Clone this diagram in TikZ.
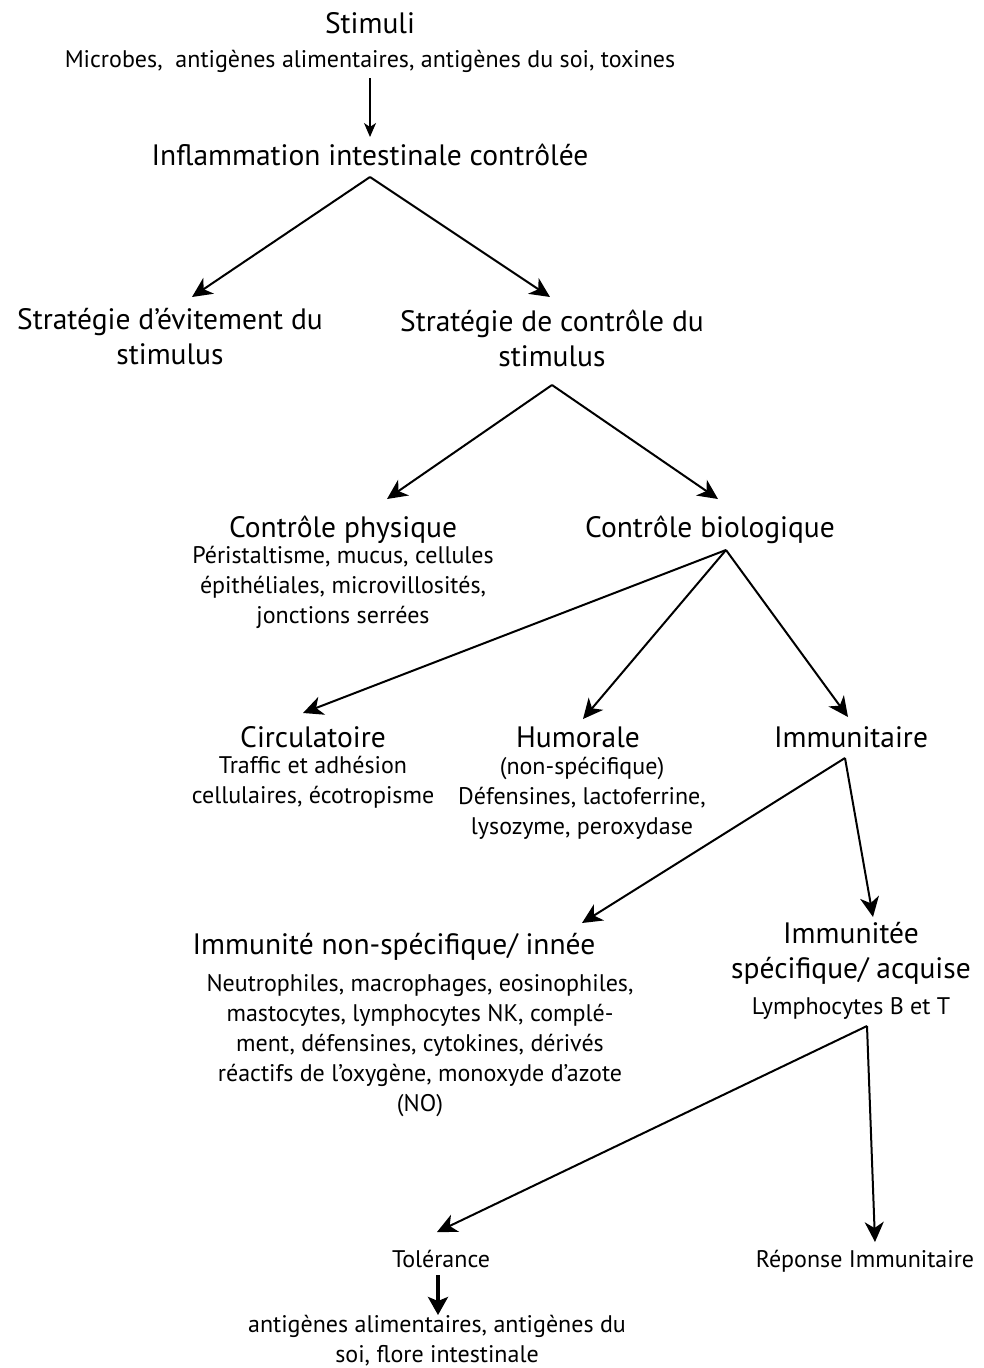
\documentclass[tikz,border=0pt]{standalone}
\usepackage{fontspec}
\setmainfont{PT Sans}
\usetikzlibrary{arrows.meta,positioning}

\begin{document}
\begin{tikzpicture}[
  x=1pt, y=-1pt,
  head/.style={inner sep=0pt, anchor=base, align=center, font=\fontsize{29.5}{35}\selectfont},
  detail/.style={inner sep=0pt, anchor=base, align=center, font=\fontsize{24}{30}\selectfont},
  arrow/.style={-{Stealth[length=20pt, width=19pt, inset=6pt]}, line width=2pt},
  thin arrow/.style={-{Stealth[length=14pt, width=12pt, inset=4pt]}, line width=1.5pt},
  bold arrow/.style={-{Stealth[length=18pt, width=20pt, inset=4pt]}, line width=4pt}
]
\useasboundingbox (0,0) rectangle (984,1368);

% titles (base = last line)
\node[head] (stim) at (370,33) {Stimuli};
\node[detail, below=34pt of stim.base, anchor=base] (micro) {Microbes,\ \ antigènes alimentaires, antigènes du soi, toxines};
\node[head] (infl) at (370,165) {Inflammation intestinale contrôlée};
\node[head] (avoid) at (170,364) {Stratégie d’évitement du\\stimulus};
\node[head] (ctrl) at (552,366) {Stratégie de contrôle du\\stimulus};
\node[head] (phys) at (343,537) {Contrôle physique};
\node[detail, below=86pt of phys.base, anchor=base] (physd) {Péristaltisme, mucus, cellules\\épithéliales, microvillosités,\\jonctions serrées};
\node[head] (bio) at (710,537) {Contrôle biologique};
\node[head] (circ) at (313,747) {Circulatoire};
\node[detail, below=56pt of circ.base, anchor=base] (circd) {Traffic et adhésion\\cellulaires, écotropisme};
\node[head] (humo) at (578,747) {Humorale};
\node[detail, below=87pt of humo.base, anchor=base, xshift=4pt] (humod) {(non-spécifique)\\Défensines, lactoferrine,\\lysozyme, peroxydase};
\node[head] (immu) at (851,747) {Immunitaire};
\node[head] (innate) at (394,954) {Immunité non-spécifique/ innée};
\node[detail, below=157pt of innate.base, anchor=base, xshift=26pt] (innated) {Neutrophiles, macrophages, eosinophiles,\\mastocytes, lymphocytes NK, complé-\\ment, défensines, cytokines, dérivés\\réactifs de l’oxygène, monoxyde d’azote\\(NO)};
\node[head] (acquired) at (851,978) {Immunitée\\spécifique/ acquise};
\node[detail, below=36pt of acquired.base, anchor=base] (acquiredd) {Lymphocytes B et T};
\node[detail] (tol) at (441,1267) {Tolérance};
\node[detail, below=95pt of tol.base, anchor=base, xshift=-4pt] (tolerd) {antigènes alimentaires, antigènes du\\soi, flore intestinale};
\node[detail] (resp) at (865,1267) {Réponse Immunitaire};

% connectors
\draw[thin arrow] ([yshift=-11pt]micro.base) -- ([yshift=28pt]infl.base);
\draw[arrow] ([yshift=-12pt]infl.base) -- ([xshift=22pt, yshift=67pt]avoid.base);
\draw[arrow] ([yshift=-12pt]infl.base) -- ([xshift=-2pt, yshift=69pt]ctrl.base);
\draw[arrow] ([yshift=-19pt]ctrl.base) -- ([xshift=44pt, yshift=38pt]phys.base);
\draw[arrow] ([yshift=-19pt]ctrl.base) -- ([xshift=8pt, yshift=38pt]bio.base);
\draw[arrow] ([xshift=16pt, yshift=-13pt]bio.base) -- ([xshift=-10pt, yshift=34pt]circ.base);
\draw[arrow] ([xshift=16pt, yshift=-13pt]bio.base) -- ([xshift=5pt, yshift=28pt]humo.base);
\draw[arrow] ([xshift=16pt, yshift=-13pt]bio.base) -- ([xshift=-3pt, yshift=30pt]immu.base);
\draw[arrow] ([xshift=-6pt, yshift=-11pt]immu.base) -- ([xshift=188pt, yshift=31pt]innate.base);
\draw[arrow] ([xshift=-6pt, yshift=-11pt]immu.base) -- ([xshift=22pt, yshift=61pt]acquired.base);
\draw[arrow] ([xshift=16pt, yshift=-12pt]acquiredd.base) -- ([xshift=-4pt, yshift=35pt]tol.base);
\draw[arrow] ([xshift=16pt, yshift=-12pt]acquiredd.base) -- ([xshift=10pt, yshift=25pt]resp.base);
\draw[bold arrow] ([xshift=-3pt, yshift=-8pt]tol.base) -- ([xshift=1pt, yshift=47pt]tolerd.base);
\end{tikzpicture}
\end{document}
